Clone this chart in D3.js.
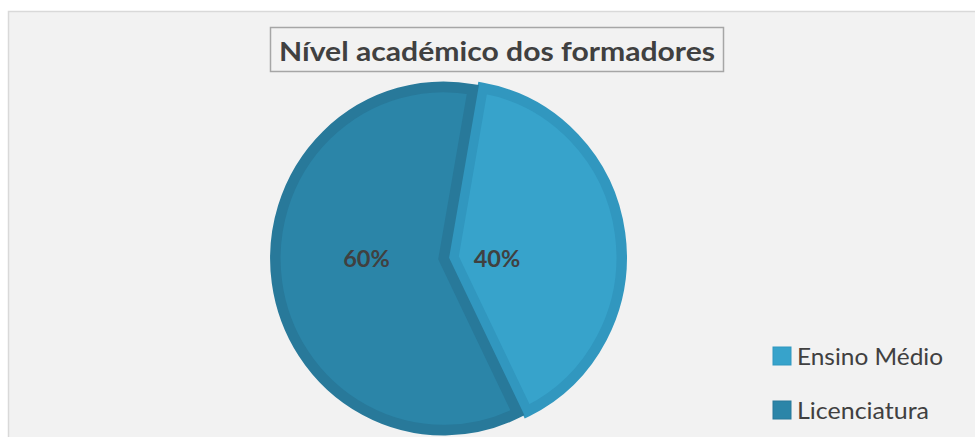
<!DOCTYPE html>
<html><head><meta charset="utf-8">
<script src="https://cdn.jsdelivr.net/npm/d3@7"></script>
<style>
html,body{margin:0;padding:0;background:#ffffff;}
svg{display:block;}
</style></head>
<body>
<svg id="chart" width="975" height="437"></svg>
<script>
const title = "Nível académico dos formadores";
const categories = ["Ensino Médio", "Licenciatura"];
const values = [40, 60];
const percentLabels = ["40%", "60%"];
const fillColors = ["#37a3cb", "#2b85a8"];
const strokeColors = ["#3197bf", "#28799a"];

const svg = d3.select("#chart");
const W = 975, H = 437;

// panel
svg.append("rect").attr("x", 8.5).attr("y", 11.5).attr("width", W).attr("height", H)
  .attr("fill", "#f2f2f2").attr("stroke", "#d9d9d9").attr("stroke-width", 1.5);

// title box
const tb = {x: 270.5, y: 27.5, w: 453, h: 44};
svg.append("rect").attr("x", tb.x).attr("y", tb.y).attr("width", tb.w).attr("height", tb.h)
  .attr("fill", "#f2f2f2").attr("stroke", "#a6a6a6").attr("stroke-width", 1.5);
svg.append("text").attr("x", tb.x + tb.w / 2).attr("y", 60.5)
  .attr("text-anchor", "middle").attr("font-family", "Lato, 'Open Sans', sans-serif")
  .attr("font-weight", 700).attr("font-size", 26.5).attr("fill", "#404040")
  .attr("textLength", 436).attr("lengthAdjust", "spacingAndGlyphs")
  .text(title);

// pie
const cx = 448.5, cy = 257.8, R = 168.3, explode = 4.9, sy = 1.02, sw = 10.5;
const start = 10 * Math.PI / 180;
const pie = d3.pie().sort(null).startAngle(start).endAngle(start + 2 * Math.PI);
const arcs = pie(values);
const arc = d3.arc().innerRadius(0).outerRadius(R);
const mid = d => (d.startAngle + d.endAngle) / 2;

const g = svg.append("g").attr("transform", `translate(${cx},${cy}) scale(1,${sy})`);
const slices = g.selectAll("g.slice").data(arcs).join("g").attr("class", "slice")
  .attr("transform", d => `translate(${explode * Math.sin(mid(d))},${-explode * Math.cos(mid(d))})`);
slices.append("path").attr("d", arc)
  .attr("fill", (d, i) => fillColors[i])
  .attr("stroke", (d, i) => strokeColors[i])
  .attr("stroke-width", sw).attr("stroke-linejoin", "miter");

// labels
const labelR = [44, 78];
svg.selectAll("text.pct").data(arcs).join("text").attr("class", "pct")
  .attr("x", (d, i) => cx + (explode + labelR[i]) * Math.sin(mid(d)))
  .attr("y", cy + 9.5)
  .attr("text-anchor", "middle").attr("font-family", "Lato, 'Open Sans', sans-serif")
  .attr("font-weight", 700).attr("font-size", 23.5).attr("fill", "#404040")
  .text((d, i) => percentLabels[i]);

// legend
const legend = svg.append("g");
const items = legend.selectAll("g").data(categories).join("g")
  .attr("transform", (d, i) => `translate(773,${347 + i * 54})`);
items.append("rect").attr("width", 18).attr("height", 18)
  .attr("fill", (d, i) => fillColors[i]).attr("stroke", (d, i) => strokeColors[i]).attr("stroke-width", 1);
items.append("text").attr("x", 24).attr("y", 18)
  .attr("font-family", "Lato, 'Open Sans', sans-serif").attr("font-size", 23).attr("fill", "#404040")
  .attr("textLength", (d, i) => [146, 132][i]).attr("lengthAdjust", "spacingAndGlyphs")
  .text(d => d);
</script>
</body></html>
